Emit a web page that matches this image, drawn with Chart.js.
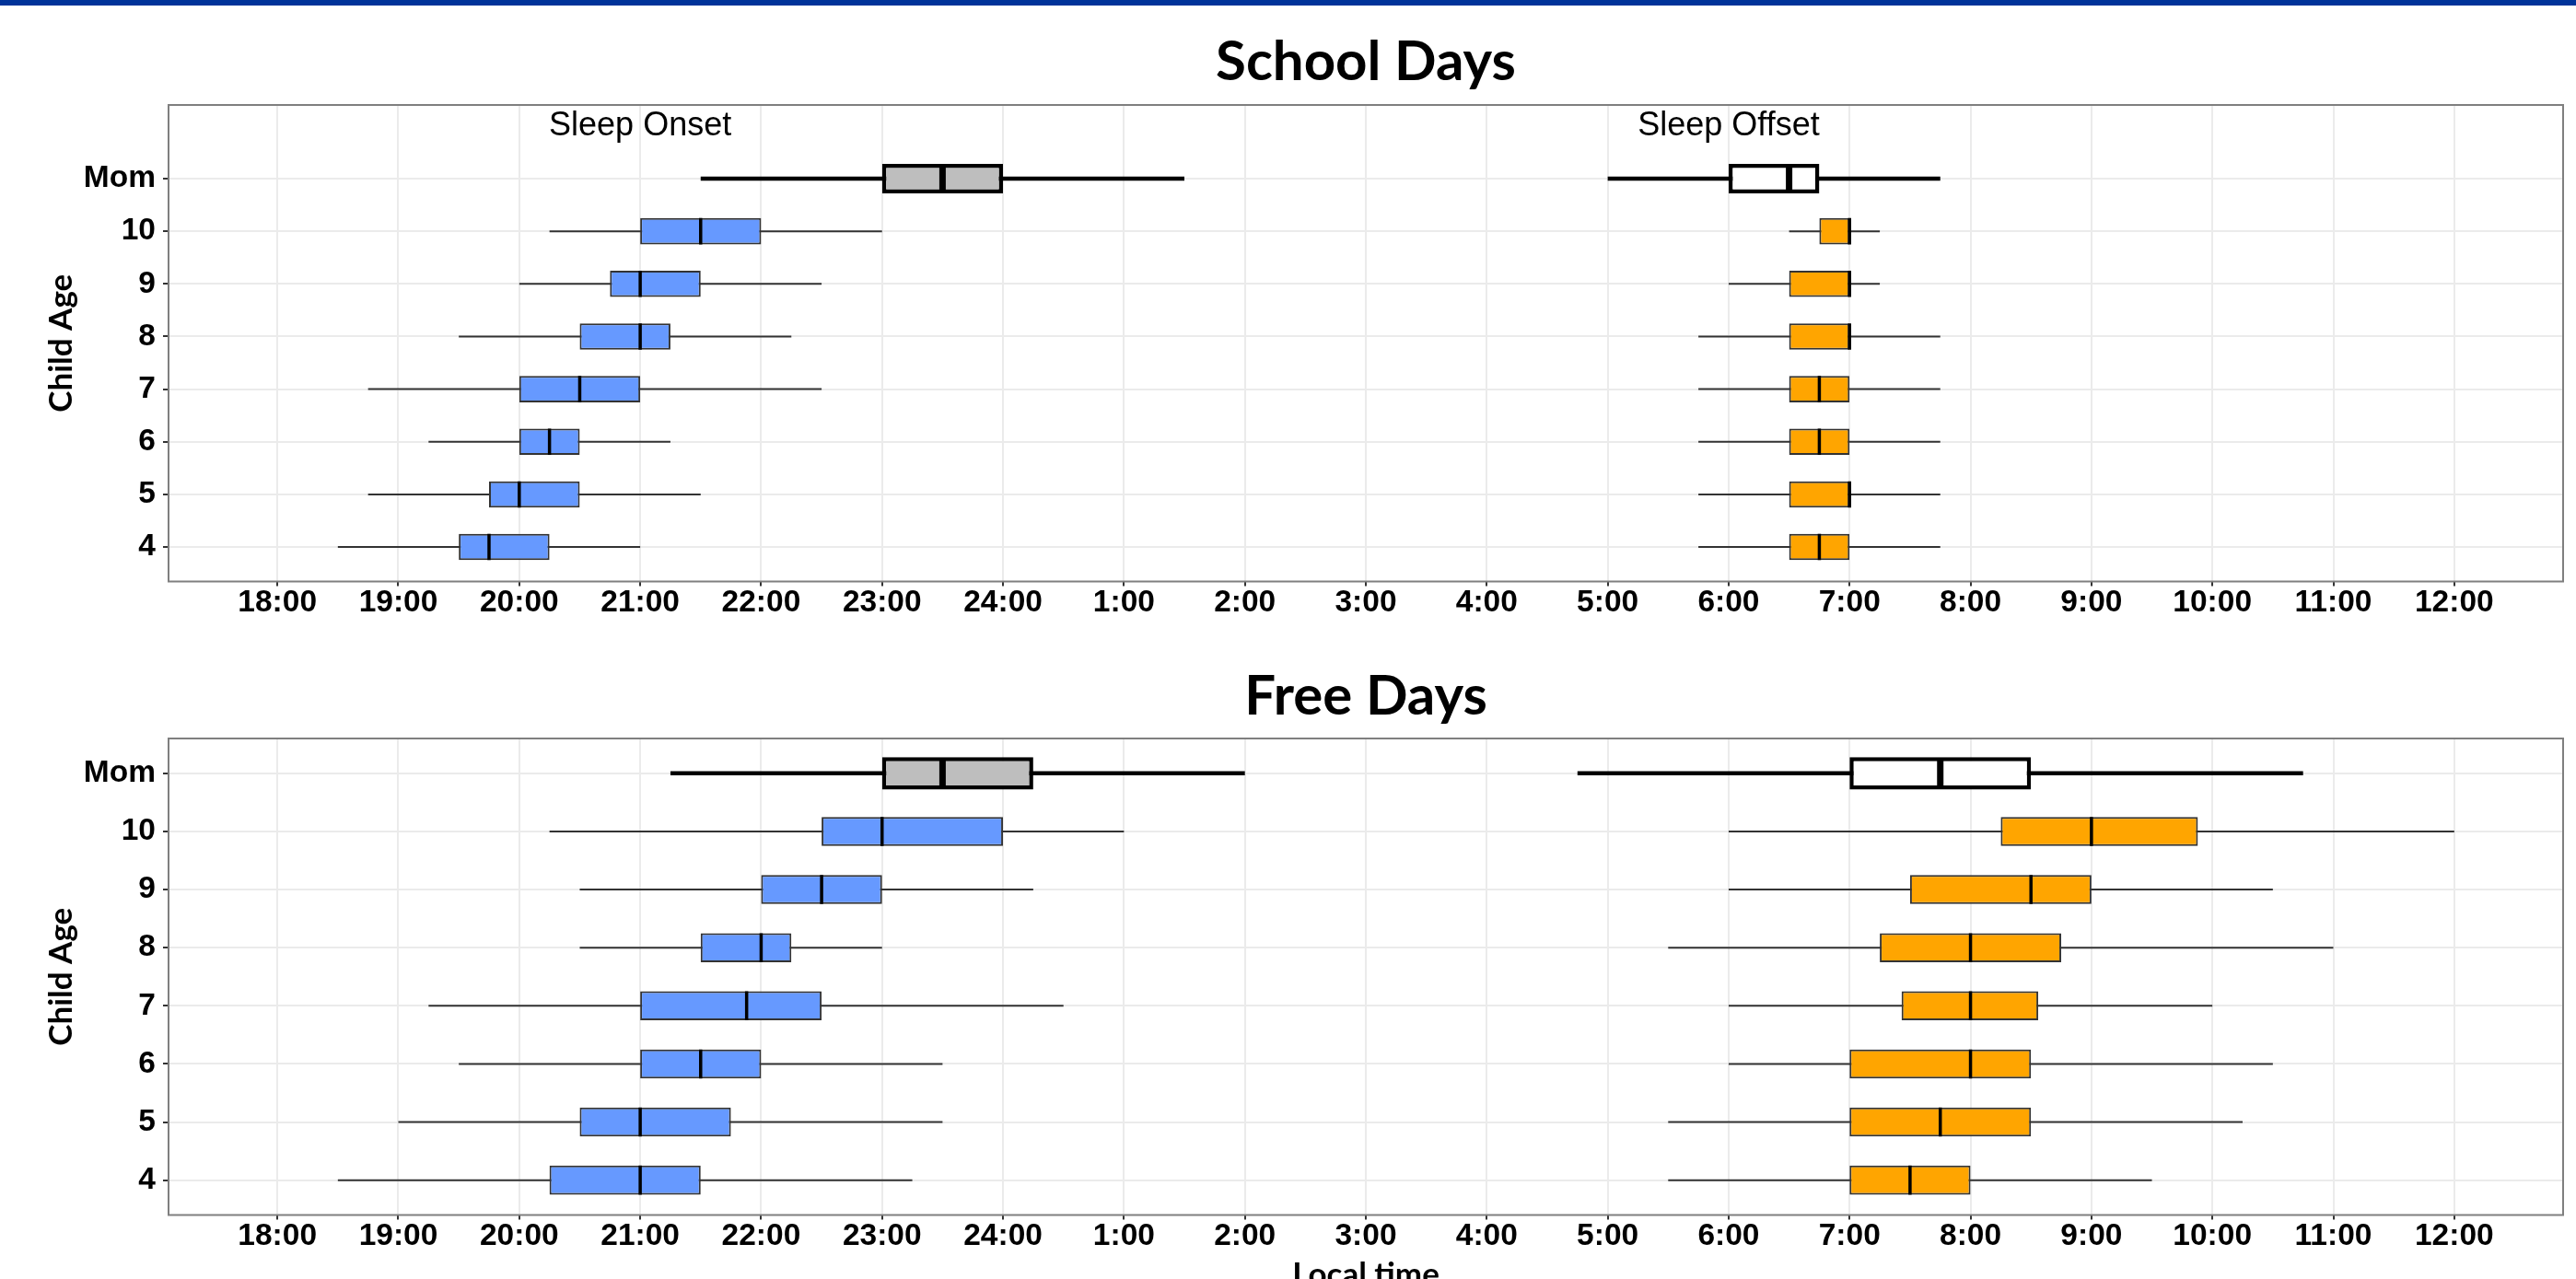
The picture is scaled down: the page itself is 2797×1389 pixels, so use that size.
<!DOCTYPE html>
<html lang="en">
<head>
    <meta charset="UTF-8">
    <title>Sleep Onset / Sleep Offset - School Days and Free Days</title>
    <script src="https://cdn.jsdelivr.net/npm/chart.js@4.4.0/dist/chart.umd.min.js"></script>
    <style>
        html, body { margin: 0; padding: 0; background: #fff; overflow: hidden; }
        body { width: 2797px; height: 1389px; position: relative; }
        .band { position: absolute; left: 0; top: 0; width: 2797px; height: 6px; background: #003399; z-index: 2; }
        .panel { position: absolute; left: 0; width: 2797px; }
        #school { top: 0; height: 700px; }
        #free { top: 700px; height: 720px; }
    </style>
</head>
<body>
    <div class="band"></div>
    <div class="panel" id="school"><canvas id="school-chart"></canvas></div>
    <div class="panel" id="free"><canvas id="free-chart"></canvas></div>

    <script>
        // Rows from bottom to top
        const ageLabels = ['4', '5', '6', '7', '8', '9', '10', 'Mom'];

        // Local time in hours on a running clock (24 = midnight, 25 = 1:00 ...)
        const hourTicks = [18, 19, 20, 21, 22, 23, 24, 25, 26, 27, 28, 29, 30, 31, 32, 33, 34, 35, 36];
        const hourLabels = ['18:00', '19:00', '20:00', '21:00', '22:00', '23:00', '24:00', '1:00', '2:00',
            '3:00', '4:00', '5:00', '6:00', '7:00', '8:00', '9:00', '10:00', '11:00', '12:00'];

        // School days - children aged 4..10
        const schoolOnsetMin = [18.5, 18.75, 19.25, 18.75, 19.5, 20, 20.25];
        const schoolOnsetQ1 = [19.5, 19.75, 20, 20, 20.5, 20.75, 21];
        const schoolOnsetMed = [19.75, 20, 20.25, 20.5, 21, 21, 21.5];
        const schoolOnsetQ3 = [20.25, 20.5, 20.5, 21, 21.25, 21.5, 22];
        const schoolOnsetMax = [21, 21.5, 21.25, 22.5, 22.25, 22.5, 23];

        const schoolOffsetMin = [29.75, 29.75, 29.75, 29.75, 29.75, 30, 30.5];
        const schoolOffsetQ1 = [30.5, 30.5, 30.5, 30.5, 30.5, 30.5, 30.75];
        const schoolOffsetMed = [30.75, 31, 30.75, 30.75, 31, 31, 31];
        const schoolOffsetQ3 = [31, 31, 31, 31, 31, 31, 31];
        const schoolOffsetMax = [31.75, 31.75, 31.75, 31.75, 31.75, 31.25, 31.25];

        // Mom: min, q1, median, q3, max
        const schoolMomOnset = [21.5, 23, 23.5, 24, 25.5];
        const schoolMomOffset = [29, 30, 30.5, 30.75, 31.75];

        // Free days - children aged 4..10
        const freeOnsetMin = [18.5, 19, 19.5, 19.25, 20.5, 20.5, 20.25];
        const freeOnsetQ1 = [20.25, 20.5, 21, 21, 21.5, 22, 22.5];
        const freeOnsetMed = [21, 21, 21.5, 21.88, 22, 22.5, 23];
        const freeOnsetQ3 = [21.5, 21.75, 22, 22.5, 22.25, 23, 24];
        const freeOnsetMax = [23.25, 23.5, 23.5, 24.5, 23, 24.25, 25];

        const freeOffsetMin = [29.5, 29.5, 30, 30, 29.5, 30, 30];
        const freeOffsetQ1 = [31, 31, 31, 31.43, 31.25, 31.5, 32.25];
        const freeOffsetMed = [31.5, 31.75, 32, 32, 32, 32.5, 33];
        const freeOffsetQ3 = [32, 32.5, 32.5, 32.56, 32.75, 33, 33.88];
        const freeOffsetMax = [33.5, 34.25, 34.5, 34, 35, 34.5, 36];

        const freeMomOnset = [21.25, 23, 23.5, 24.25, 26];
        const freeMomOffset = [28.75, 31, 31.75, 32.5, 34.75];

        const BOX_HALF = 0.25;
        const KID_LINE = '#333333';
        const TICK_FONT = { family: '"Liberation Sans", Arial, sans-serif', size: 33.5, weight: 'bold', lineHeight: 1 };
        const TITLE_FAMILY = 'Lato, "Open Sans", sans-serif';

        function kidBoxes(min, q1, med, q3, max) {
            return min.map((v, i) => ({ min: v, q1: q1[i], med: med[i], q3: q3[i], max: max[i], pos: i + 1 }));
        }

        function momBox(s) {
            return [{ min: s[0], q1: s[1], med: s[2], q3: s[3], max: s[4], pos: ageLabels.length }];
        }

        function boxSet(boxes, fill, edge, width, pct) {
            return {
                type: 'bar',
                indexAxis: 'y',
                data: boxes.map(b => ({ x: [b.q1, b.q3], y: b.pos })),
                backgroundColor: fill,
                borderColor: edge,
                borderWidth: width,
                borderSkipped: false,
                grouped: false,
                categoryPercentage: 1,
                barPercentage: pct,
                order: 2
            };
        }

        function whiskerSet(boxes, color, width) {
            const pts = [];
            boxes.forEach(b => {
                pts.push({ x: b.min, y: b.pos }, { x: b.max, y: b.pos }, { x: b.max, y: null });
            });
            return { type: 'line', data: pts, borderColor: color, borderWidth: width, pointRadius: 0, spanGaps: false, fill: false, order: 3 };
        }

        function medianSet(boxes, color, width) {
            const pts = [];
            boxes.forEach(b => {
                pts.push({ x: b.med, y: b.pos - BOX_HALF }, { x: b.med, y: b.pos + BOX_HALF }, { x: b.med, y: null });
            });
            return { type: 'line', data: pts, borderColor: color, borderWidth: width, pointRadius: 0, spanGaps: false, fill: false, order: 1 };
        }

        // panel frame + "Sleep Onset"/"Sleep Offset" notes
        const panelFrame = {
            id: 'panelFrame',
            afterDatasetsDraw(chart, args, opts) {
                const { ctx, chartArea: a, scales } = chart;
                ctx.save();
                (opts.notes || []).forEach(n => {
                    ctx.font = '36px "Liberation Sans", Arial, sans-serif';
                    ctx.fillStyle = '#000';
                    ctx.textAlign = 'center';
                    ctx.textBaseline = 'middle';
                    ctx.fillText(n.text, scales.x.getPixelForValue(n.x), scales.y.getPixelForValue(n.y));
                });
                ctx.strokeStyle = '#7f7f7f';
                ctx.lineWidth = 2;
                ctx.strokeRect(a.left, a.top, a.right - a.left, a.bottom - a.top);
                ctx.restore();
            }
        };

        function makePanel(id, cfg) {
            const kidsOn = kidBoxes(...cfg.onset);
            const kidsOff = kidBoxes(...cfg.offset);
            const momOn = momBox(cfg.momOnset);
            const momOff = momBox(cfg.momOffset);

            return new Chart(document.getElementById(id), {
                type: 'bar',
                data: {
                    datasets: [
                        whiskerSet(kidsOn.concat(kidsOff), KID_LINE, 2),
                        whiskerSet(momOn.concat(momOff), '#000', 4.5),
                        boxSet(kidsOn, '#6699FF', KID_LINE, 2, 0.5),
                        boxSet(kidsOff, '#FFA500', KID_LINE, 2, 0.5),
                        boxSet(momOn, '#BEBEBE', '#000', 4.5, 0.56),
                        boxSet(momOff, '#FFFFFF', '#000', 4.5, 0.56),
                        medianSet(kidsOn.concat(kidsOff), '#000', 3.5),
                        medianSet(momOn.concat(momOff), '#000', 7)
                    ]
                },
                options: {
                    responsive: true,
                    maintainAspectRatio: false,
                    animation: false,
                    events: [],
                    layout: { padding: { top: cfg.padTop, right: 14, bottom: 0, left: 0 } },
                    scales: {
                        x: {
                            type: 'linear',
                            min: 17.1,
                            max: 36.9,
                            bounds: 'data',
                            offset: false,
                            afterBuildTicks: s => { s.ticks = hourTicks.map(v => ({ value: v })); },
                            afterFit: s => { s.height = cfg.xHeight; },
                            ticks: {
                                callback: (v, i) => hourLabels[i],
                                font: TICK_FONT,
                                color: '#000',
                                padding: 2,
                                maxRotation: 0,
                                autoSkip: false
                            },
                            grid: { color: '#EBEBEB', lineWidth: 2, tickLength: 5, tickColor: '#333', tickWidth: 2, offset: false },
                            border: { display: false },
                            title: {
                                display: cfg.xTitle,
                                text: 'Local time',
                                color: '#000',
                                font: { family: TITLE_FAMILY, size: 35, weight: 'bold', lineHeight: 1.2 },
                                padding: { top: 0, bottom: 14 }
                            }
                        },
                        y: {
                            type: 'linear',
                            min: cfg.yMin,
                            max: cfg.yMax,
                            bounds: 'data',
                            offset: false,
                            afterBuildTicks: s => { s.ticks = ageLabels.map((_, i) => ({ value: i + 1 })); },
                            afterFit: s => { s.width = 183; },
                            ticks: {
                                callback: (v, i) => ageLabels[i],
                                font: TICK_FONT,
                                color: '#000',
                                padding: 8,
                                autoSkip: false
                            },
                            grid: { color: '#EBEBEB', lineWidth: 2, tickLength: 6, tickColor: '#333', tickWidth: 2, offset: false },
                            border: { display: false },
                            title: {
                                display: true,
                                text: 'Child Age',
                                color: '#000',
                                font: { family: TITLE_FAMILY, size: 35, weight: 'bold', lineHeight: 1.2 },
                                padding: { top: 46, bottom: 0 }
                            }
                        }
                    },
                    plugins: {
                        legend: { display: false },
                        tooltip: { enabled: false },
                        title: {
                            display: true,
                            text: cfg.title,
                            color: '#000',
                            fullSize: false,
                            font: { family: TITLE_FAMILY, size: 60, weight: 'bold', lineHeight: 1.2 },
                            padding: { top: 0, bottom: cfg.titleGap }
                        },
                        panelFrame: { notes: cfg.notes }
                    }
                },
                plugins: [panelFrame]
            });
        }

        makePanel('school-chart', {
            title: 'School Days',
            onset: [schoolOnsetMin, schoolOnsetQ1, schoolOnsetMed, schoolOnsetQ3, schoolOnsetMax],
            offset: [schoolOffsetMin, schoolOffsetQ1, schoolOffsetMed, schoolOffsetQ3, schoolOffsetMax],
            momOnset: schoolMomOnset,
            momOffset: schoolMomOffset,
            yMin: 0.345,
            yMax: 9.4,
            padTop: 31.8,
            titleGap: 10.2,
            xHeight: 68.5,
            xTitle: false,
            notes: [{ text: 'Sleep Onset', x: 21, y: 9 }, { text: 'Sleep Offset', x: 30, y: 9 }]
        });

        makePanel('free-chart', {
            title: 'Free Days',
            onset: [freeOnsetMin, freeOnsetQ1, freeOnsetMed, freeOnsetQ3, freeOnsetMax],
            offset: [freeOffsetMin, freeOffsetQ1, freeOffsetMed, freeOffsetQ3, freeOffsetMax],
            momOnset: freeMomOnset,
            momOffset: freeMomOffset,
            yMin: 0.4,
            yMax: 8.6,
            padTop: 20.3,
            titleGap: 9.7,
            xHeight: 100.5,
            xTitle: true,
            notes: []
        });
    </script>
</body>
</html>
